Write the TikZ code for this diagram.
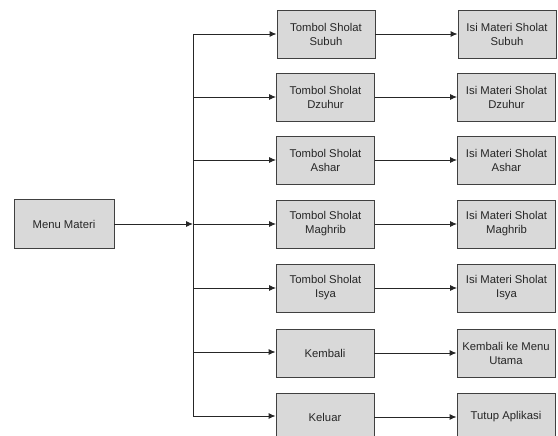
\documentclass[tikz,border=0pt]{standalone}
\usepackage{fontspec}
\setmainfont{Liberation Sans}
\usetikzlibrary{arrows.meta}
\begin{document}
\begin{tikzpicture}[x=1pt,y=-1pt,
  box/.style={draw=black!75,fill=black!15,line width=0.9pt,minimum width=98pt,minimum height=48pt,
    inner sep=1pt,align=center,font=\fontsize{11.3}{14}\selectfont,text=black!85},
  link/.style={draw=black!85,line width=0.9pt,-{Latex[length=7pt,width=6pt]}},
  trunk/.style={draw=black!85,line width=0.9pt}]
\useasboundingbox (0,0) rectangle (558,436);
\clip (0,0) rectangle (558,436);
% main menu
\node[box,minimum width=100pt,minimum height=49pt] (menu) at (64,224) {Menu Materi};
% button column
\node[box] (b1) at (326,34) {Tombol Sholat\\Subuh};
\node[box] (b2) at (325.5,97) {Tombol Sholat\\Dzuhur};
\node[box] (b3) at (325.5,160) {Tombol Sholat\\Ashar};
\node[box] (b4) at (325.5,224) {Tombol Sholat\\Maghrib};
\node[box] (b5) at (325.5,288) {Tombol Sholat\\Isya};
\node[box] (b6) at (325,353) {Kembali};
\node[box] (b7) at (325,417) {Keluar};
% result column
\node[box] (r1) at (507,34) {Isi Materi Sholat\\Subuh};
\node[box] (r2) at (506.5,97) {Isi Materi Sholat\\Dzuhur};
\node[box] (r3) at (506.5,160) {Isi Materi Sholat\\Ashar};
\node[box] (r4) at (506.5,224) {Isi Materi Sholat\\Maghrib};
\node[box] (r5) at (506.5,288) {Isi Materi Sholat\\Isya};
\node[box] (r6) at (506,353) {Kembali ke Menu\\Utama};
\node[box] (r7) at (506,417) {Tutup Aplikasi};
% branching trunk
\foreach \i/\yy in {1/34,2/97,3/160,4/224,5/288,6/352,7/416} {
  \coordinate (j\i) at (193,\yy);
}
\draw[trunk] (j1) -- (j7);
\draw[link] (menu.east) -- (j4);
\foreach \i in {1,...,7} {
  \draw[link] (j\i) -- (j\i -| b\i.west);
  \draw[link] (b\i.east) -- (r\i.west);
}
\end{tikzpicture}
\end{document}
